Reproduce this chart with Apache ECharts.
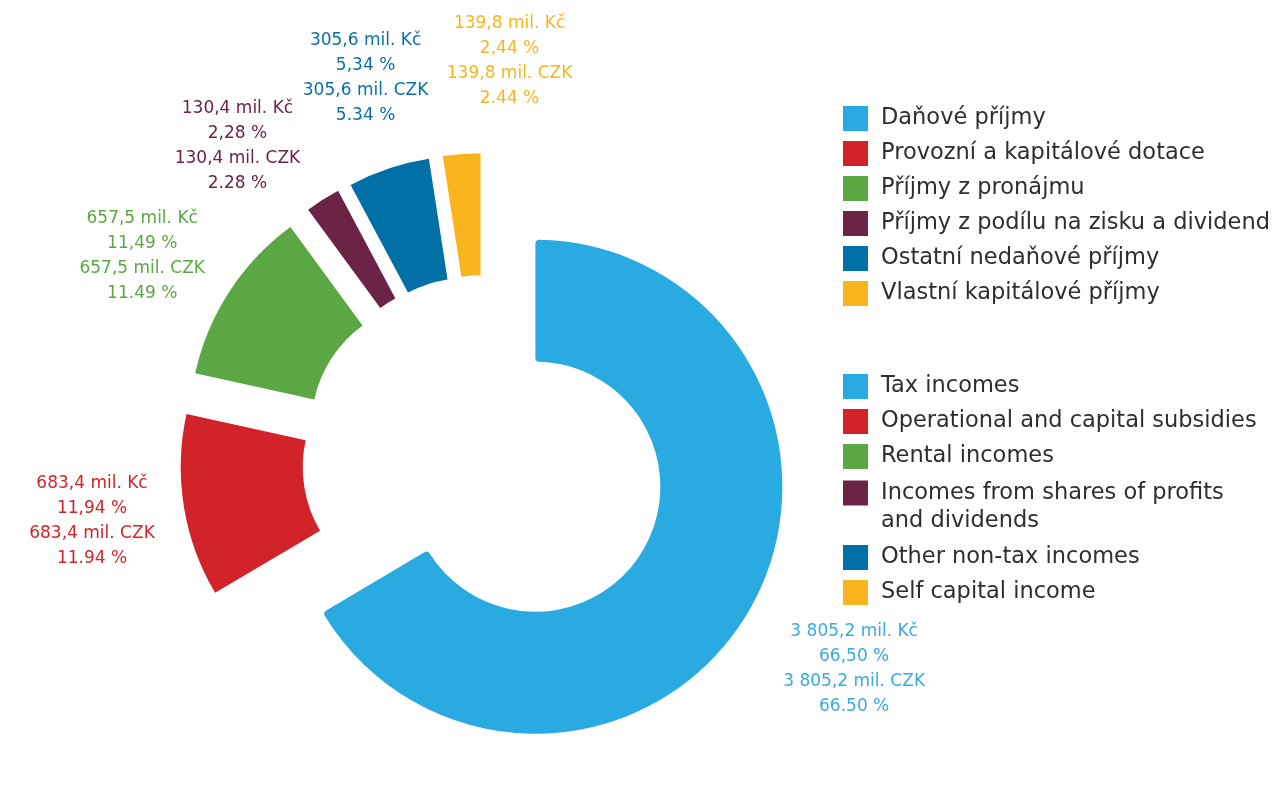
<!DOCTYPE html>
<html>
<head>
<meta charset="utf-8">
<script src="https://cdn.jsdelivr.net/npm/echarts@6/dist/echarts.min.js"></script>
<style>
    html, body { margin: 0; padding: 0; background: #ffffff; }
    #chart { width: 1275px; height: 805px; }
</style>
</head>
<body>
<div id="chart"></div>
<script>
const namesCz = [
    'Daňové příjmy',
    'Provozní a kapitálové dotace',
    'Příjmy z pronájmu',
    'Příjmy z podílu na zisku a dividend',
    'Ostatní nedaňové příjmy',
    'Vlastní kapitálové příjmy'
];
const namesEn = [
    'Tax incomes',
    'Operational and capital subsidies',
    'Rental incomes',
    'Incomes from shares of profits\nand dividends',
    'Other non-tax incomes',
    'Self capital income'
];
// mil. Kč
const values = [3805.2, 683.4, 657.5, 130.4, 305.6, 139.8];
const colors = ['#29abe2', '#d2232a', '#5ba744', '#6b2346', '#0070a6', '#fab51e'];
const labelColors = ['#3aa9e0', '#d2232a', '#5ba744', '#6b2346', '#0b6fa5', '#f9b51d'];

const FONT = 'DejaVu Sans';
const CENTER = [485, 458];
const RADIUS = [125, 247];
const EXPLODE = 58;
const LABEL_DIST = 398;
const TAX_LABEL_DIST = 425;

const total = values.reduce((a, b) => a + b, 0);

// mid angle of every slice, clockwise from 12 o'clock
let acc = 0;
const midAngles = values.map(v => {
    const a = (acc + v / 2) / total * 360;
    acc += v;
    return a;
});

// push label angles apart so the 4-line labels don't collide
function spread(angles, gap) {
    const out = angles.slice();
    for (let k = 0; k < 100; k++) {
        for (let i = 1; i < out.length; i++) {
            const d = out[i] - out[i - 1];
            if (d < gap) {
                const s = (gap - d) / 2;
                out[i - 1] -= s;
                out[i] += s;
            }
        }
    }
    return out;
}
const labelAngles = spread(midAngles, 21);

function fmtNum(v) {
    const parts = v.toFixed(1).split('.');
    return parts[0].replace(/\B(?=(\d{3})+(?!\d))/g, ' ') + ',' + parts[1];
}

function labelText(p) {
    const pct = (p.value / total * 100).toFixed(2);
    return fmtNum(p.value) + ' mil. Kč\n' + pct.replace('.', ',') + ' %\n'
        + fmtNum(p.value) + ' mil. CZK\n' + pct + ' %';
}

const enName = n => namesEn[namesCz.indexOf(n)];

const legendBase = {
    left: 843,
    orient: 'vertical',
    padding: 0,
    icon: 'rect',
    itemWidth: 25,
    itemHeight: 25,
    itemGap: 10,
    selectedMode: false,
    textStyle: {
        fontFamily: FONT,
        fontSize: 22.5,
        color: '#2e2e2e',
        lineHeight: 25,
        padding: [0, 0, 0, 8]
    }
};

const chart = echarts.init(document.getElementById('chart'));

chart.setOption({
    backgroundColor: '#ffffff',
    animation: false,
    legend: [
        { ...legendBase, top: 106, data: namesCz },
        { ...legendBase, top: 374, data: namesCz.slice(0, 3), formatter: enName },
        {
            ...legendBase,
            top: 451,
            data: [namesCz[3]],
            formatter: n => '\n' + enName(n),
            textStyle: { ...legendBase.textStyle, lineHeight: 28 }
        },
        { ...legendBase, top: 545, data: namesCz.slice(4), formatter: enName }
    ],
    series: [
        {
            // exploded slices
            type: 'pie',
            center: CENTER,
            radius: RADIUS,
            startAngle: 90,
            clockwise: true,
            selectedMode: 'multiple',
            selectedOffset: EXPLODE,
            emphasis: { scale: false },
            label: { show: false },
            labelLine: { show: false },
            data: values.map((v, i) => ({
                name: namesCz[i],
                value: v,
                selected: true,
                itemStyle: { color: colors[i], borderRadius: i === 0 ? 4 : 0 }
            }))
        },
        {
            // transparent twin that only carries the value labels
            type: 'pie',
            center: CENTER,
            radius: RADIUS,
            startAngle: 90,
            clockwise: true,
            silent: true,
            avoidLabelOverlap: false,
            emphasis: { disabled: true },
            data: values.map((v, i) => ({
                name: namesCz[i],
                value: v,
                itemStyle: { color: 'rgba(0,0,0,0)' },
                label: { color: labelColors[i] }
            })),
            label: {
                show: true,
                position: 'outside',
                formatter: labelText,
                fontFamily: FONT,
                fontSize: 17,
                lineHeight: 25,
                opacity: 1
            },
            labelLine: { show: false },
            labelLayout: function (p) {
                const a = labelAngles[p.dataIndex] * Math.PI / 180;
                const d = p.dataIndex === 0 ? TAX_LABEL_DIST : LABEL_DIST;
                return {
                    x: CENTER[0] + d * Math.sin(a),
                    y: CENTER[1] - d * Math.cos(a),
                    align: 'center',
                    verticalAlign: 'middle'
                };
            }
        }
    ]
});
</script>
</body>
</html>
